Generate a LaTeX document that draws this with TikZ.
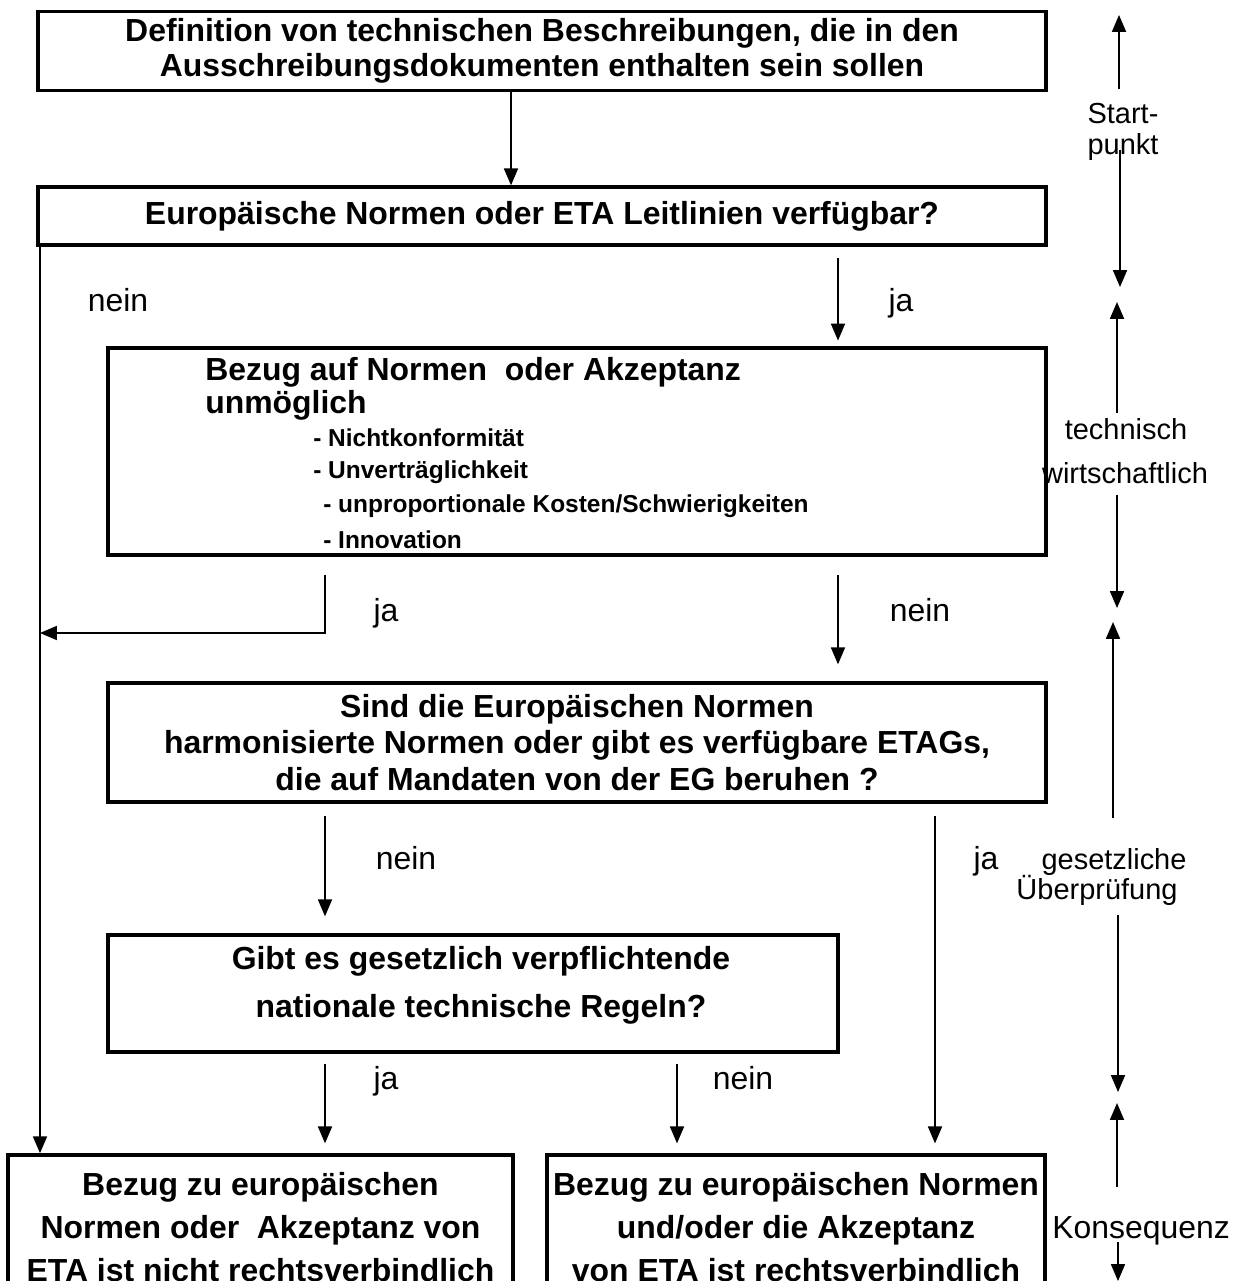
\documentclass[tikz,border=0pt]{standalone}
\usepackage{fontspec}
\setmainfont{Liberation Sans}
\usetikzlibrary{arrows.meta}

\tikzset{
  box/.style={draw, line width=2.4pt, inner sep=0pt, align=center, font=\bfseries\fontsize{22.7}{24.2}\selectfont},
  arr/.style={line width=1pt, -{Triangle[length=12pt,width=10pt]}},
  lbl/.style={inner sep=0pt, text height=1.6ex, text depth=0.5ex, yshift=-5pt, font=\fontsize{22.7}{27}\selectfont},
  side/.style={lbl, font=\fontsize{20.6}{24}\selectfont},
  head/.style={inner sep=0pt, anchor=west, font=\bfseries\fontsize{22.7}{24.2}\selectfont},
  item/.style={inner sep=0pt, anchor=west, font=\bfseries\fontsize{17.4}{20}\selectfont},
}

\begin{document}
\begin{tikzpicture}[x=0.025cm, y=-0.025cm]
		\useasboundingbox (0,0) rectangle (1241,1281);
		% boxes
		\node [box, minimum width=25.2cm, minimum height=1.98cm, font=\bfseries\fontsize{22.7}{24.6}\selectfont] (box1) at (542,51) {Definition von technischen Beschreibungen, die in den\\Ausschreibungsdokumenten enthalten sein sollen};
		\node [box, minimum width=25.2cm, minimum height=1.45cm] (box2) at (542,216) {Europäische Normen oder ETA Leitlinien verfügbar?};
		\node [box, minimum width=23.45cm, minimum height=5.18cm] (box3) at (577,451.5) {};
		\node [head] (hd1) at (205,372) {Bezug auf Normen\ \ oder Akzeptanz};
		\node [head] (hd2) at (205,405) {unmöglich};
		\node [item] (it1) at (313,438) {- Nichtkonformität};
		\node [item] (it2) at (313,472) {- Unverträglichkeit};
		\node [item] (it3) at (323,506) {- unproportionale Kosten/Schwierigkeiten};
		\node [item] (it4) at (323,540) {- Innovation};
		\node [box, minimum width=23.45cm, minimum height=2.98cm, font=\bfseries\fontsize{22.7}{26}\selectfont] (box4) at (577,742.5) {Sind die Europäischen Normen\\harmonisierte Normen oder gibt es verfügbare ETAGs,\\die auf Mandaten von der EG beruhen ?};
		\node [box, minimum width=18.25cm, minimum height=2.93cm] (box5) at (473,993.5) {};
		\node [inner sep=0pt, align=center, font=\bfseries\fontsize{22.7}{34}\selectfont] (txt5) at (481,985) {Gibt es gesetzlich verpflichtende\\nationale technische Regeln?};
		\node [box, minimum width=12.63cm, minimum height=3.63cm, font=\bfseries\fontsize{22.7}{30.6}\selectfont] (box6) at (260.5,1227.5) {Bezug zu europäischen\\Normen oder\ \ Akzeptanz von\\ETA ist nicht rechtsverbindlich};
		\node [box, minimum width=12.45cm, minimum height=3.63cm, font=\bfseries\fontsize{22.7}{30.6}\selectfont] (box7) at (796,1227.5) {Bezug zu europäischen Normen\\und/oder die Akzeptanz\\von ETA ist rechtsverbindlich};

		% columns of the connectors
		\coordinate (colL) at (40,0);
		\coordinate (colM) at (325,0);
		\coordinate (colB) at (511,0);
		\coordinate (colN) at (677,0);
		\coordinate (colR) at (838,0);
		\coordinate (colJ) at (935,0);
		\coordinate (turn) at (325,633);

		\draw [arr] (box1.south -| colB) -- (box2.north -| colB);
		\draw [arr] (box2.south -| colL) -- (box6.north -| colL);
		\draw [arr, shorten <=8pt, shorten >=4pt] (box2.south -| colR) -- (box3.north -| colR);
		\draw [arr, shorten <=13pt] (box3.south -| colM) -- (turn) -- (turn -| colL);
		\draw [arr, shorten <=13pt, shorten >=12pt] (box3.south -| colR) -- (box4.north -| colR);
		\draw [arr, shorten <=9pt, shorten >=12pt] (box4.south -| colM) -- (box5.north -| colM);
		\draw [arr, shorten <=9pt, shorten >=7pt] (box4.south -| colJ) -- (box7.north -| colJ);
		\draw [arr, shorten <=7pt, shorten >=7pt] (box5.south -| colM) -- (box6.north -| colM);
		\draw [arr, shorten <=7pt, shorten >=7pt] (box5.south -| colN) -- (box7.north -| colN);

		\node [lbl] (nein1) at (118,300) {nein};
		\node [lbl] (ja1) at (901,300) {ja};
		\node [lbl] (ja2) at (386,610) {ja};
		\node [lbl] (nein2) at (920,610) {nein};
		\node [lbl] (nein3) at (406,858) {nein};
		\node [lbl] (ja3) at (986,858) {ja};
		\node [lbl] (ja4) at (386,1078) {ja};
		\node [lbl] (nein4) at (743,1078) {nein};

		% right side scale
		\node [side] (start) at (1123,112) {Start-};
		\node [side] (punkt) at (1123,143) {punkt};
		\node [side] (techn) at (1126,428) {technisch};
		\node [side] (wirt) at (1125,472) {wirtschaftlich};
		\node [side] (gesetz) at (1114,858) {gesetzliche};
		\node [side] (pruef) at (1097,888) {Überprüfung};
		\node [lbl] (konseq) at (1141,1227) {Konsequenz};

		\coordinate (r1a) at (1119,89);   \coordinate (r1b) at (1119,15);
		\coordinate (r2a) at (1120,150);  \coordinate (r2b) at (1120,287);
		\coordinate (r3a) at (1117,413);  \coordinate (r3b) at (1117,302);
		\coordinate (r4a) at (1117,495);  \coordinate (r4b) at (1117,608);
		\coordinate (r5a) at (1113,818);  \coordinate (r5b) at (1113,622);
		\coordinate (r6a) at (1118,915);  \coordinate (r6b) at (1118,1092);
		\coordinate (r7a) at (1117,1187); \coordinate (r7b) at (1117,1103);
		\coordinate (r8a) at (1118,1242); \coordinate (r8b) at (1118,1281);
		\draw [arr] (r1a) -- (r1b);
		\draw [arr] (r2a) -- (r2b);
		\draw [arr] (r3a) -- (r3b);
		\draw [arr] (r4a) -- (r4b);
		\draw [arr] (r5a) -- (r5b);
		\draw [arr] (r6a) -- (r6b);
		\draw [arr] (r7a) -- (r7b);
		\draw [arr] (r8a) -- (r8b);
\end{tikzpicture}
\end{document}
